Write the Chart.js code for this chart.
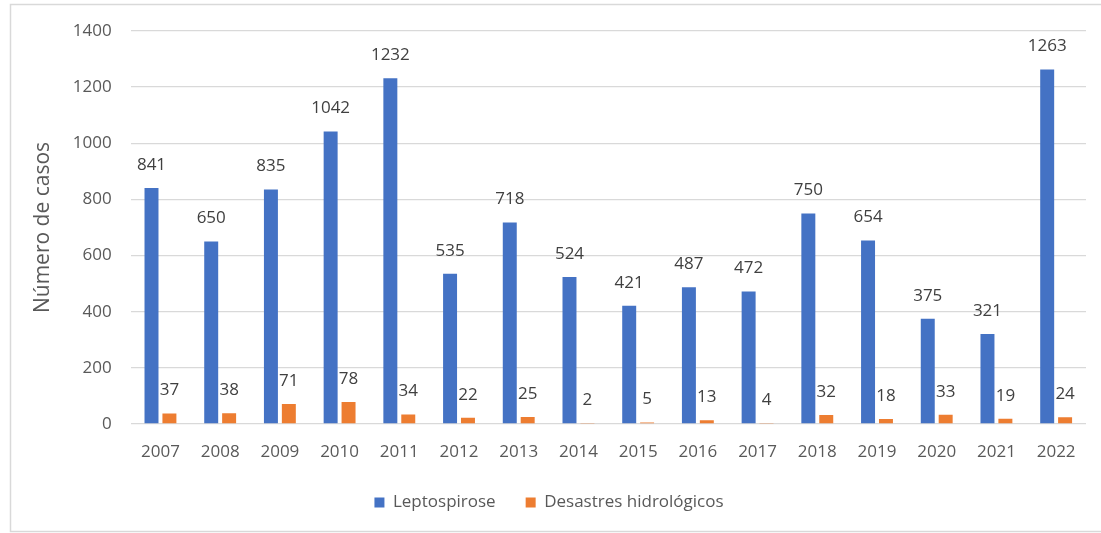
<!DOCTYPE html>
<html>
<head>
<meta charset="utf-8">
<script src="https://cdn.jsdelivr.net/npm/chart.js@4/dist/chart.umd.min.js"></script>
<style>
  html, body { margin: 0; padding: 0; background: #fff; }
  #wrap { width: 1101px; height: 533px; }
</style>
</head>
<body>
<div id="wrap"><canvas id="chart"></canvas></div>
<script>
// Data
const years = ['2007', '2008', '2009', '2010', '2011', '2012', '2013', '2014',
               '2015', '2016', '2017', '2018', '2019', '2020', '2021', '2022'];
const leptospirose = [841, 650, 835, 1042, 1232, 535, 718, 524, 421, 487, 472, 750, 654, 375, 321, 1263];
const desastres = [37, 38, 71, 78, 34, 22, 25, 2, 5, 13, 4, 32, 18, 33, 19, 24];
const yTicks = [0, 200, 400, 600, 800, 1000, 1200, 1400];

const FONT = 'Open Sans';
const TEXT = '#595959';

// Draws the value above each bar
const valueLabels = {
    id: 'valueLabels',
    afterDatasetsDraw(chart) {
        const ctx = chart.ctx;
        ctx.save();
        ctx.font = '17px "' + FONT + '"';
        ctx.fillStyle = '#404040';
        ctx.textAlign = 'center';
        ctx.textBaseline = 'middle';
        chart.data.datasets.forEach((ds, i) => {
            chart.getDatasetMeta(i).data.forEach((bar, j) => {
                ctx.fillText(ds.data[j], bar.x, bar.y - 23);
            });
        });
        ctx.restore();
    }
};

// Light frame around the picture (left, top, bottom)
const frame = {
    id: 'frame',
    beforeDraw(chart) {
        const ctx = chart.ctx;
        ctx.save();
        ctx.fillStyle = '#fff';
        ctx.fillRect(0, 0, chart.width, chart.height);
        ctx.strokeStyle = '#d9d9d9';
        ctx.lineWidth = 1.5;
        ctx.beginPath();
        ctx.moveTo(chart.width, 4.5);
        ctx.lineTo(10.5, 4.5);
        ctx.lineTo(10.5, 531.5);
        ctx.lineTo(chart.width, 531.5);
        ctx.stroke();
        ctx.restore();
    }
};

new Chart(document.getElementById('chart'), {
    type: 'bar',
    data: {
        labels: years,
        datasets: [
            { label: 'Leptospirose', data: leptospirose, backgroundColor: '#4472C4' },
            { label: 'Desastres hidrológicos', data: desastres, backgroundColor: '#ED7D31' }
        ]
    },
    options: {
        responsive: true,
        maintainAspectRatio: false,
        animation: false,
        datasets: {
            bar: { categoryPercentage: 0.6, barPercentage: 0.78 }
        },
        layout: { padding: { left: 12, right: 15, top: 31, bottom: 12 } },
        scales: {
            x: {
                grid: { display: false, drawTicks: false },
                border: { display: false },
                ticks: { color: TEXT, font: { family: FONT, size: 17 }, padding: 18 },
                afterFit(scale) { scale.height = 40; }
            },
            y: {
                min: 0,
                max: 1400,
                afterBuildTicks(scale) { scale.ticks = yTicks.map(v => ({ value: v })); },
                grid: { color: '#d9d9d9', lineWidth: 1.3, drawTicks: false },
                border: { display: false },
                ticks: {
                    color: TEXT,
                    font: { family: FONT, size: 17 },
                    padding: 19,
                    callback: v => String(v)
                },
                title: {
                    display: true,
                    text: 'Número de casos',
                    color: TEXT,
                    font: { family: FONT, size: 21 },
                    padding: { top: 18, bottom: 0 }
                },
                afterFit(scale) { scale.width = 118.6; }
            }
        },
        plugins: {
            legend: {
                position: 'bottom',
                labels: {
                    color: TEXT,
                    font: { family: FONT, size: 17 },
                    boxWidth: 10,
                    boxHeight: 10,
                    padding: 30
                }
            },
            tooltip: { enabled: false }
        }
    },
    plugins: [frame, valueLabels]
});
</script>
</body>
</html>
